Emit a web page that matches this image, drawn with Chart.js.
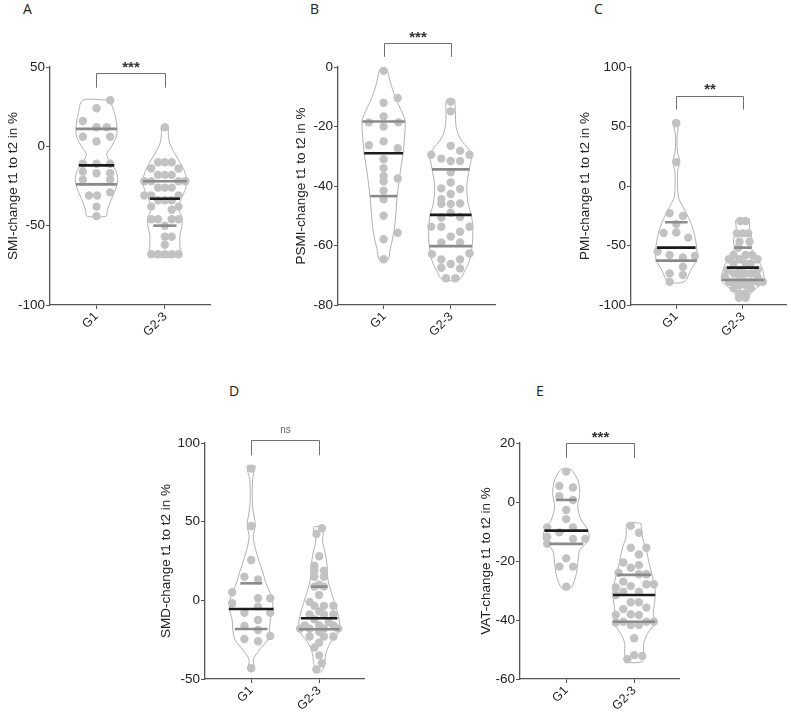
<!DOCTYPE html>
<html>
<head>
<meta charset="utf-8">
<script src="https://cdn.jsdelivr.net/npm/chart.js@4.4.1/dist/chart.umd.min.js"></script>
<style>
  body { margin: 0; background: #fff; }
  #page { position: relative; width: 791px; height: 717px; overflow: hidden; }
  canvas { position: absolute; }
  .letter { position: absolute; font: 14px/18px "Open Sans", sans-serif; color: #222; }
  .group {
    position: absolute; white-space: nowrap; color: #222;
    font: 12.5px/14px "Liberation Sans", Arial, sans-serif;
    transform-origin: 50% 50%;
    transform: translate(-50%, -50%) rotate(-45deg);
  }
</style>
</head>
<body>
<div id="page">
  <div class="letter" style="left:23px;top:0px">A</div>
  <div class="letter" style="left:310px;top:0px">B</div>
  <div class="letter" style="left:594px;top:0px">C</div>
  <div class="letter" style="left:229px;top:382px">D</div>
  <div class="letter" style="left:536px;top:382px">E</div>
  <canvas id="chartA" width="225" height="370" style="left:5px;top:0px"></canvas>
  <canvas id="chartB" width="222" height="370" style="left:293px;top:0px"></canvas>
  <canvas id="chartC" width="214" height="370" style="left:577px;top:0px"></canvas>
  <canvas id="chartD" width="222" height="317" style="left:158px;top:400px"></canvas>
  <canvas id="chartE" width="217" height="317" style="left:478px;top:400px"></canvas>
</div>
<script>
const groups = ['G1', 'G2-3'];

// A - SMI
const smiG1 = [29, 24, 16, 12, 12, 6, 6, 3, -11, -11, -11, -16, -17, -17, -21, -21, -29, -31, -31, -38, -44];
const smiG1Dx = [0.2, 0, -0.2, 0, 0.15, -0.2, 0.2, 0, -0.2, 0, 0.2, -0.2, 0, 0.2, -0.2, 0.2, 0.2, -0.11, 0.01, 0, 0];
const smiG2 = [12, -10, -10, -10, -14, -14, -18, -18, -18, -22, -22, -22, -22, -26, -26, -26, -31, -31, -31, -34, -34, -34, -38, -38, -40, -46, -46, -46, -46, -50, -57, -57, -62, -68, -68, -68, -68, -68];
const smiG2Dx = [0, -0.1, 0, 0.1, -0.2, 0.2, -0.1, 0, 0.1, -0.3, -0.2, 0.2, 0.3, -0.1, 0, 0.1, -0.3, -0.2, 0.2, -0.1, 0, 0.1, -0.2, 0.2, 0.1, -0.2, -0.1, 0.1, 0.2, 0, 0, 0.1, 0, -0.2, -0.1, 0, 0.1, 0.2];
const smiShapeG1Y = [29, 20, 12, 6, 0, -5, -10, -15, -21, -27, -33, -40, -44];
const smiShapeG1W = [0.2, 0.27, 0.3, 0.29, 0.22, 0.15, 0.2, 0.28, 0.31, 0.28, 0.22, 0.16, 0.14];
const smiShapeG2Y = [12.5, 8, 2, -5, -10, -15, -21, -27, -33, -39, -45, -50, -56, -63, -69];
const smiShapeG2W = [0.05, 0.05, 0.07, 0.15, 0.22, 0.28, 0.32, 0.3, 0.24, 0.2, 0.25, 0.25, 0.22, 0.22, 0.22];
const smiStatsG1 = [11, -12, -24];
const smiStatsG1W = [0.3, 0.26, 0.3];
const smiStatsG2 = [-22, -33, -50];
const smiStatsG2W = [0.32, 0.22, 0.17];

// B - PSMI
const psmiG1 = [-1.3, -10.4, -12, -16.6, -18.6, -18.6, -20, -25, -26.3, -27.3, -31, -34, -36.6, -37.5, -38.4, -41.6, -44.5, -50, -55.7, -57.9, -64.6];
const psmiG1Dx = [0, 0.21, 0, 0, -0.22, 0.22, 0, 0, -0.22, 0.21, 0, 0, 0, 0.21, 0, 0, 0, 0, 0.21, 0, 0];
const psmiG2 = [-11.7, -14.9, -26.5, -28.2, -29.5, -29.5, -30.8, -31.6, -31.6, -35.4, -38.8, -40.8, -41, -42.7, -44.4, -46, -46, -45.9, -49, -50.6, -50.4, -53.7, -53.7, -53.7, -55.4, -57, -59, -59, -62.9, -62.7, -64.7, -64.7, -66.2, -67.5, -67.7, -71, -71];
const psmiG2Dx = [0, 0, 0, 0.14, -0.29, 0.28, -0.14, 0, 0.14, 0, 0, -0.14, 0.14, 0, -0.14, -0.14, 0, 0.14, 0, -0.14, 0.14, -0.29, -0.14, 0.28, 0.14, 0, -0.14, 0.14, -0.28, 0.28, -0.14, 0.14, 0, -0.14, 0.14, -0.07, 0.07];
const psmiShapeG1Y = [-0.6, -5, -10, -14, -18, -24, -29, -35, -44, -50, -56, -61, -65];
const psmiShapeG1W = [0.05, 0.1, 0.17, 0.25, 0.32, 0.31, 0.29, 0.25, 0.2, 0.18, 0.15, 0.1, 0.06];
const psmiShapeG2Y = [-11, -15, -20, -24, -28, -30, -34, -40, -46, -50, -55, -60, -65, -69, -71.5];
const psmiShapeG2W = [0.06, 0.07, 0.08, 0.14, 0.28, 0.31, 0.28, 0.24, 0.26, 0.31, 0.33, 0.32, 0.28, 0.2, 0.12];
const psmiStatsG1 = [-18.3, -29, -43.4];
const psmiStatsG1W = [0.32, 0.29, 0.2];
const psmiStatsG2 = [-34.4, -49.7, -60.2];
const psmiStatsG2W = [0.28, 0.31, 0.32];

// C - PMI
const pmiG1 = [52.7, 20, -22.9, -25.2, -32, -39.5, -39, -43.4, -55, -58, -60, -58.8, -67.8, -73.4, -74.8, -80.4];
const pmiG1Dx = [0, 0, -0.1, 0.1, 0, -0.19, 0, 0.18, -0.28, -0.1, 0.1, 0.28, 0.1, -0.1, 0.1, -0.1];
const pmiG2 = [-29.4, -29.4, -39.8, -39.8, -39.8, -46.8, -46.8, -52, -58, -58, -58, -61.6, -61.6, -61.6, -65, -65, -65, -70.6, -70.6, -70.6, -73.4, -73.4, -73.4, -76.2, -76.2, -76.2, -80.4, -80.4, -80.4, -80.4, -80.4, -80.4, -83.2, -83.2, -86, -86, -90.2, -90.2, -94, -94];
const pmiG2Dx = [-0.04, 0.04, -0.09, 0, 0.08, -0.05, 0.1, -0.07, -0.14, 0.04, 0.14, -0.21, -0.05, 0.22, -0.14, 0.04, 0.12, -0.23, -0.05, 0.22, -0.14, 0.04, 0.12, -0.27, -0.05, 0.22, -0.21, -0.14, 0.04, 0.12, 0.22, 0.3, -0.05, 0.04, -0.14, 0.12, -0.05, 0.04, -0.06, 0.04];
const pmiShapeG1Y = [54.9, 44, 30, 20.4, 12, -9, -17.4, -28.6, -39.8, -53.8, -62.2, -70.6, -80.4];
const pmiShapeG1W = [0.05, 0.015, 0.015, 0.05, 0.02, 0.03, 0.1, 0.2, 0.27, 0.31, 0.3, 0.22, 0.12];
const pmiShapeG2Y = [-28, -35.6, -45.4, -52.4, -59.4, -67.8, -76.2, -80.4, -86, -90.2, -94.4];
const pmiShapeG2W = [0.1, 0.1, 0.14, 0.13, 0.2, 0.28, 0.32, 0.31, 0.2, 0.12, 0.08];
const pmiStatsG1 = [-30.5, -51.8, -62.7];
const pmiStatsG1W = [0.17, 0.29, 0.31];
const pmiStatsG2 = [-51.8, -68.6, -79];
const pmiStatsG2W = [0.13, 0.24, 0.32];

// D - SMD
const smdG1 = [83.7, 47.2, 25.6, 15, 13.3, 5.1, 1.3, 1.3, -1.9, -4, -7.9, -7.9, -12.5, -16.3, -18.9, -22.7, -24.6, -26, -43.2];
const smdG1Dx = [0, 0, 0, -0.1, 0.1, -0.28, 0.1, 0.28, -0.28, 0.1, -0.1, 0.28, 0.1, -0.1, 0.1, 0.28, -0.1, 0.1, 0];
const smdG2 = [45.8, 42.2, 28, 22, 18.8, 18.8, 15, 15, 10, 8.7, 8.7, 3.4, -1, -3.5, -3.5, -3.5, -7, -9, -9, -9, -12, -14, -16, -16, -16, -18, -18, -18, -18, -20, -23, -23, -23, -27, -30, -35, -40, -44];
const smdG2Dx = [0.04, -0.04, 0, -0.07, -0.07, 0.07, -0.07, 0.07, 0, -0.07, 0.07, 0, -0.14, -0.07, 0.07, 0.21, 0, -0.14, 0.07, 0.21, -0.07, 0.14, -0.21, 0, 0.21, -0.28, -0.14, 0.07, 0.28, 0, -0.14, 0.07, 0.21, 0, -0.07, 0, 0.04, -0.04];
const smdShapeG1Y = [85.4, 76.5, 59.5, 47.9, 40.4, 29.9, 19.3, 10.8, 2.3, -5.1, -12.5, -18.9, -25.2, -31.6, -37.9, -44.3];
const smdShapeG1W = [0.06, 0.02, 0.02, 0.06, 0.03, 0.08, 0.16, 0.22, 0.3, 0.32, 0.28, 0.27, 0.24, 0.12, 0.03, 0.05];
const smdShapeG2Y = [46.4, 38.3, 29.9, 21.4, 12.9, 2.3, -6.1, -14.6, -20.9, -27.3, -33.7, -42.2, -45.4];
const smdShapeG2W = [0.08, 0.05, 0.09, 0.12, 0.13, 0.2, 0.26, 0.3, 0.27, 0.16, 0.1, 0.07, 0.03];
const smdStatsG1 = [10.8, -5.5, -18.2];
const smdStatsG1W = [0.16, 0.33, 0.24];
const smdStatsG2 = [8.7, -11.4, -18.4];
const smdStatsG2W = [0.12, 0.27, 0.3];

// E - VAT
const vatG1 = [10.3, 5.4, 4.9, 2, 0.7, -2.7, -5.8, -8.6, -10.3, -8.6, -11.8, -12.5, -12.5, -14.2, -19.1, -21.9, -21.9, -28.7];
const vatG1Dx = [0, -0.1, 0.1, -0.1, 0.1, 0, 0, -0.28, -0.1, 0.1, -0.28, 0.1, 0.28, -0.28, 0, -0.1, 0.1, 0];
const vatG2 = [-8.1, -10.4, -15.5, -15.5, -17.8, -20.5, -21.4, -22.3, -24, -24.5, -24.5, -27, -27.9, -27.9, -28.5, -29, -30.4, -30.4, -31.5, -34, -34, -35.8, -36.3, -38.3, -38.1, -38.3, -40.6, -40.6, -40.6, -40.9, -41.7, -41.7, -46.2, -51.9, -52.2, -53.3];
const vatG2Dx = [-0.05, 0.07, -0.05, 0.18, 0.07, -0.16, 0.07, -0.05, -0.23, 0.18, 0.07, -0.16, 0.18, 0.29, -0.05, -0.27, -0.16, 0.07, -0.27, -0.05, 0.07, 0.18, -0.16, -0.27, -0.05, 0.07, -0.16, 0.18, 0.29, -0.27, -0.05, 0.07, 0, 0, 0.12, -0.1];
const vatShapeG1Y = [11.1, 7.5, 2.9, -1.6, -6.1, -9.5, -12.9, -16.3, -20.8, -25.3, -29.3];
const vatShapeG1W = [0.07, 0.17, 0.2, 0.17, 0.22, 0.32, 0.33, 0.2, 0.17, 0.14, 0.06];
const vatShapeG2Y = [-7.2, -11.8, -16.3, -20.8, -25.3, -29.8, -34.3, -37.7, -41.1, -44.5, -47.9, -51.3, -54.1];
const vatShapeG2W = [0.1, 0.12, 0.18, 0.22, 0.27, 0.31, 0.3, 0.28, 0.3, 0.2, 0.14, 0.14, 0.12];
const vatStatsG1 = [0.7, -9.7, -14.2];
const vatStatsG1W = [0.15, 0.32, 0.25];
const vatStatsG2 = [-24.7, -31.5, -40.6];
const vatStatsG2W = [0.25, 0.31, 0.31];

// significance brackets: [top, bottom of the legs] in axis units
const smiBracket = [46.4, 37];
const psmiBracket = [8.2, 3.4];
const pmiBracket = [75.7, 64.2];
const smdBracket = [101.7, 92.2];
const vatBracket = [20, 15];

const FONT = '"Liberation Sans", Arial, sans-serif';
const AXIS = '#555';

// outline of a violin: down the right side, back up the left side
function violinOutline(center, ys, ws) {
  const right = ys.map((y, i) => ({ x: center + ws[i], y: y }));
  const left = ys.map((y, i) => ({ x: center - ws[i], y: y })).reverse();
  return right.concat(left, [right[0]]);
}

function dots(center, vals, dx) {
  return vals.map((v, i) => ({ x: center + dx[i], y: v }));
}

function statLines(center, vals, ws) {
  return vals.map((v, i) => ({
    data: [{ x: center - ws[i], y: v }, { x: center + ws[i], y: v }],
    showLine: true,
    borderColor: i === 1 ? '#1b1b1b' : '#8a8a8a',
    borderWidth: 2.6,
    pointRadius: 0,
    order: 0,
  }));
}

const bracketPlugin = {
  id: 'bracket',
  afterDraw(chart, args, opts) {
    const { ctx } = chart;
    const x = chart.scales.x;
    const y = chart.scales.y;
    const xl = Math.round(x.getPixelForValue(0)) + 0.5;
    const xr = Math.round(x.getPixelForValue(1)) + 0.5;
    const yt = Math.round(y.getPixelForValue(opts.top)) + 0.5;
    const yb = y.getPixelForValue(opts.bottom);
    ctx.save();
    ctx.strokeStyle = '#707070';
    ctx.lineWidth = 1;
    ctx.beginPath();
    ctx.moveTo(xl, yb);
    ctx.lineTo(xl, yt);
    ctx.lineTo(xr, yt);
    ctx.lineTo(xr, yb);
    ctx.stroke();
    ctx.fillStyle = opts.color;
    ctx.font = opts.font;
    ctx.textAlign = 'center';
    ctx.textBaseline = 'alphabetic';
    ctx.fillText(opts.text, (xl + xr) / 2, yt - opts.gap);
    ctx.restore();
  }
};

// group names under the x axis, turned 45 degrees so that each one ends at its tick
function addGroupLabels(chart, canvas) {
  const x = chart.scales.x;
  const page = document.getElementById('page');
  groups.forEach((g, i) => {
    const d = document.createElement('div');
    d.className = 'group';
    d.textContent = g;
    page.appendChild(d);
    const half = d.offsetWidth * 0.354;
    d.style.left = (canvas.offsetLeft + x.getPixelForValue(i) - half) + 'px';
    d.style.top = (canvas.offsetTop + x.top + 9 + half) + 'px';
  });
}

function makePanel(id, p) {
  const datasets = [
    ...statLines(0, p.statsG1, p.statsG1W),
    ...statLines(1, p.statsG2, p.statsG2W),
    {
      data: dots(0, p.g1, p.g1Dx).concat(dots(1, p.g2, p.g2Dx)),
      pointRadius: 4.2,
      pointBackgroundColor: '#c2c2c2',
      pointBorderWidth: 0,
      showLine: false,
      order: 1,
    },
    {
      data: violinOutline(0, p.shapeG1Y, p.shapeG1W),
      showLine: true, tension: 0.3, pointRadius: 0,
      borderColor: '#b0b0b0', borderWidth: 1, order: 2,
    },
    {
      data: violinOutline(1, p.shapeG2Y, p.shapeG2W),
      showLine: true, tension: 0.3, pointRadius: 0,
      borderColor: '#b0b0b0', borderWidth: 1, order: 2,
    },
  ];

  const canvas = document.getElementById(id);
  const chart = new Chart(canvas, {
    type: 'scatter',
    data: { datasets: datasets },
    plugins: [bracketPlugin],
    options: {
      responsive: false,
      animation: false,
      events: [],
      layout: { padding: { top: p.padTop, right: p.padRight, left: 0, bottom: 0 } },
      plugins: {
        legend: { display: false },
        tooltip: { enabled: false },
        bracket: {
          top: p.bracket[0], bottom: p.bracket[1], text: p.sig,
          font: p.sig === 'ns' ? '10px ' + FONT : 'bold 15px ' + FONT,
          color: p.sig === 'ns' ? '#666' : '#333',
          gap: p.sigGap,
        },
      },
      scales: {
        x: {
          type: 'linear',
          min: -0.68,
          max: 1.66,
          afterBuildTicks: (s) => { s.ticks = groups.map((g, i) => ({ value: i })); },
          afterFit: (s) => { s.height = p.xAxisH; },
          ticks: { display: false },
          grid: { drawOnChartArea: false, tickLength: 4, color: AXIS },
          border: { color: AXIS, width: 1.3 },
        },
        y: {
          min: p.yMin,
          max: p.yMax,
          afterFit: (s) => { s.width = p.yAxisW; },
          ticks: { stepSize: p.yStep, padding: 1, color: '#222', font: { family: FONT, size: 13.5 } },
          grid: { drawOnChartArea: false, tickLength: 4, color: AXIS },
          border: { color: AXIS, width: 1.3 },
          title: { display: true, text: p.yTitle, color: '#222', padding: 0, font: { family: FONT, size: 13.5 } },
        },
      },
    },
  });
  addGroupLabels(chart, canvas);
}

makePanel('chartA', {
  g1: smiG1, g1Dx: smiG1Dx, g2: smiG2, g2Dx: smiG2Dx,
  shapeG1Y: smiShapeG1Y, shapeG1W: smiShapeG1W, shapeG2Y: smiShapeG2Y, shapeG2W: smiShapeG2W,
  statsG1: smiStatsG1, statsG1W: smiStatsG1W, statsG2: smiStatsG2, statsG2W: smiStatsG2W,
  bracket: smiBracket, sig: '***', sigGap: 1.5,
  yMin: -100, yMax: 50, yStep: 50, yTitle: 'SMI-change t1 to t2 in %',
  yAxisW: 45, xAxisH: 65, padTop: 67, padRight: 20,
});

makePanel('chartB', {
  g1: psmiG1, g1Dx: psmiG1Dx, g2: psmiG2, g2Dx: psmiG2Dx,
  shapeG1Y: psmiShapeG1Y, shapeG1W: psmiShapeG1W, shapeG2Y: psmiShapeG2Y, shapeG2W: psmiShapeG2W,
  statsG1: psmiStatsG1, statsG1W: psmiStatsG1W, statsG2: psmiStatsG2, statsG2W: psmiStatsG2W,
  bracket: psmiBracket, sig: '***', sigGap: 1.5,
  yMin: -80, yMax: 0, yStep: 20, yTitle: 'PSMI-change t1 to t2 in %',
  yAxisW: 45, xAxisH: 65, padTop: 67, padRight: 20,
});

makePanel('chartC', {
  g1: pmiG1, g1Dx: pmiG1Dx, g2: pmiG2, g2Dx: pmiG2Dx,
  shapeG1Y: pmiShapeG1Y, shapeG1W: pmiShapeG1W, shapeG2Y: pmiShapeG2Y, shapeG2W: pmiShapeG2W,
  statsG1: pmiStatsG1, statsG1W: pmiStatsG1W, statsG2: pmiStatsG2, statsG2W: pmiStatsG2W,
  bracket: pmiBracket, sig: '**', sigGap: 3,
  yMin: -100, yMax: 100, yStep: 50, yTitle: 'PMI-change t1 to t2 in %',
  yAxisW: 54, xAxisH: 65, padTop: 67, padRight: 2,
});

makePanel('chartD', {
  g1: smdG1, g1Dx: smdG1Dx, g2: smdG2, g2Dx: smdG2Dx,
  shapeG1Y: smdShapeG1Y, shapeG1W: smdShapeG1W, shapeG2Y: smdShapeG2Y, shapeG2W: smdShapeG2W,
  statsG1: smdStatsG1, statsG1W: smdStatsG1W, statsG2: smdStatsG2, statsG2W: smdStatsG2W,
  bracket: smdBracket, sig: 'ns', sigGap: 8,
  yMin: -50, yMax: 100, yStep: 50, yTitle: 'SMD-change t1 to t2 in %',
  yAxisW: 47, xAxisH: 38, padTop: 43, padRight: 16,
});

makePanel('chartE', {
  g1: vatG1, g1Dx: vatG1Dx, g2: vatG2, g2Dx: vatG2Dx,
  shapeG1Y: vatShapeG1Y, shapeG1W: vatShapeG1W, shapeG2Y: vatShapeG2Y, shapeG2W: vatShapeG2W,
  statsG1: vatStatsG1, statsG1W: vatStatsG1W, statsG2: vatStatsG2, statsG2W: vatStatsG2W,
  bracket: vatBracket, sig: '***', sigGap: 1.5,
  yMin: -60, yMax: 20, yStep: 20, yTitle: 'VAT-change t1 to t2 in %',
  yAxisW: 42, xAxisH: 38, padTop: 43, padRight: 16,
});
</script>
</body>
</html>
